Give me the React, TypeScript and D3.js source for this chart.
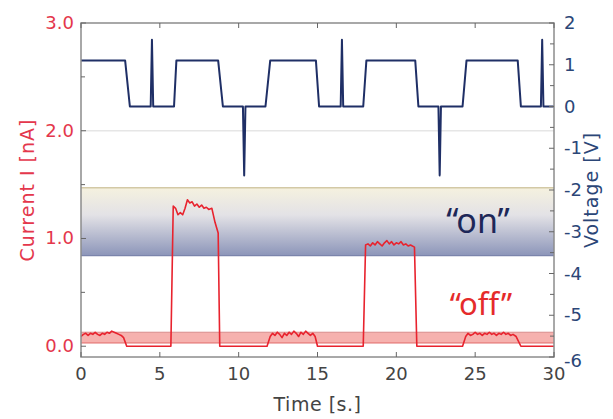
import * as d3 from "d3";

// time axis ticks and labels
const timeTicks = [0, 5, 10, 15, 20, 25, 30];
const currentTicks = [0, 1, 2, 3];
const currentMinor = [0.5, 1.5, 2.5];
const voltageTicks = [2, 1, 0, -1, -2, -3, -4, -5, -6];
const voltageMinor = [1.5, 0.5, -0.5, -1.5, -2.5, -3.5, -4.5, -5.5];

// applied voltage pulse train (time [s], voltage [V])
const voltTime = [0, 2.8, 3.1, 4.42, 4.5, 4.58, 5.9, 6.05, 8.7, 9.0, 10.27, 10.35, 10.43, 11.7, 12.0, 14.9, 15.1, 16.47, 16.55, 16.63, 17.9, 18.1, 21.2, 21.4, 22.67, 22.75, 22.83, 24.2, 24.45, 27.7, 27.9, 29.17, 29.25, 29.33, 30];
const voltValue = [1.1, 1.1, 0, 0, 1.6, 0, 0, 1.1, 1.1, 0, 0, -1.65, 0, 0, 1.1, 1.1, 0, 0, 1.6, 0, 0, 1.1, 1.1, 0, 0, -1.65, 0, 0, 1.1, 1.1, 0, 0, 1.6, 0, 0];

// measured current (time [s], current [nA])
const currTime = [
  0, 0.15, 0.3, 0.45, 0.6, 0.75, 0.9, 1.05, 1.2, 1.35, 1.5, 1.65, 1.8, 1.95, 2.1, 2.25, 2.4, 2.55, 2.7, 2.9,
  5.7, 5.85, 6.0, 6.15, 6.3, 6.45, 6.6, 6.75, 6.9, 7.05, 7.2, 7.35, 7.5, 7.65, 7.8, 7.95, 8.1, 8.3, 8.5, 8.7, 8.8,
  11.8, 12.0, 12.15, 12.3, 12.45, 12.6, 12.75, 12.9, 13.05, 13.2, 13.35, 13.5, 13.65, 13.8, 13.95, 14.1, 14.25, 14.4, 14.55, 14.7, 14.85, 15.0,
  17.9, 18.05, 18.2, 18.35, 18.5, 18.65, 18.8, 18.95, 19.1, 19.25, 19.4, 19.55, 19.7, 19.85, 20.0, 20.15, 20.3, 20.45, 20.6, 20.75, 20.9, 21.15, 21.3,
  24.2, 24.4, 24.55, 24.7, 24.85, 25.0, 25.15, 25.3, 25.45, 25.6, 25.75, 25.9, 26.05, 26.2, 26.35, 26.5, 26.65, 26.8, 26.95, 27.1, 27.25, 27.4, 27.6, 27.9, 30,
];
const currValue = [
  0.09, 0.11, 0.12, 0.1, 0.12, 0.11, 0.13, 0.11, 0.1, 0.12, 0.11, 0.13, 0.12, 0.14, 0.13, 0.12, 0.11, 0.1, 0.08, 0,
  0, 1.3, 1.28, 1.22, 1.24, 1.22, 1.28, 1.36, 1.33, 1.34, 1.3, 1.32, 1.29, 1.31, 1.28, 1.29, 1.27, 1.28, 1.15, 1.05, 0,
  0, 0.09, 0.12, 0.1, 0.13, 0.11, 0.08, 0.12, 0.1, 0.13, 0.11, 0.14, 0.12, 0.09, 0.13, 0.11, 0.14, 0.12, 0.1, 0.12, 0.09, 0,
  0, 0.94, 0.95, 0.93, 0.96, 0.94, 0.97, 0.95, 0.93, 0.96, 0.98, 0.95, 0.97, 0.94, 0.96, 0.95, 0.97, 0.94, 0.95, 0.93, 0.94, 0.92, 0,
  0, 0.09, 0.12, 0.1, 0.11, 0.13, 0.11, 0.12, 0.1, 0.12, 0.11, 0.13, 0.11, 0.12, 0.1, 0.12, 0.11, 0.13, 0.11, 0.12, 0.1, 0.11, 0.09, 0, 0,
];

// state bands in current units [nA]
const onBand = [0.84, 1.47];
const offBand = [0.03, 0.13];

const W = 613;
const H = 419;
const left = 81, right = 554, top = 23, bottom = 357;

const red = "#e4374c";
const navy = "#2b4677";
const font = "DejaVu Sans";

export default function App() {
  const x = d3.scaleLinear().domain([0, 30]).range([left, right]);
  const yI = d3.scaleLinear().domain([-0.1, 3.0]).range([bottom, top]);
  const yV = d3.scaleLinear().domain([-6, 2]).range([bottom, top]);

  const vLine = d3.line<number>().x((_, i) => x(voltTime[i])).y((d) => yV(d))(voltValue) ?? "";
  const iLine = d3.line<number>().x((_, i) => x(currTime[i])).y((d) => yI(d))(currValue) ?? "";

  return (
    <svg width={W} height={H} style={{ position: "absolute", left: 0, top: 0, background: "#fff" }} fontFamily={font}>
      <defs>
        <linearGradient id="onGrad" x1="0" y1="0" x2="0" y2="1">
          <stop offset="0%" stopColor="#f5f1df" />
          <stop offset="40%" stopColor="#e3e2e6" />
          <stop offset="100%" stopColor="#8c95b9" />
        </linearGradient>
      </defs>

      {/* grid */}
      <line x1={left} x2={right} y1={yI(2)} y2={yI(2)} stroke="#e6e6e6" strokeWidth={1.5} />

      {/* bands */}
      <rect x={left} width={right - left} y={yI(onBand[1])} height={yI(onBand[0]) - yI(onBand[1])} fill="url(#onGrad)" />
      <line x1={left} x2={right} y1={yI(onBand[1])} y2={yI(onBand[1])} stroke="#d3c9a6" strokeWidth={1.5} />
      <line x1={left} x2={right} y1={yI(onBand[0])} y2={yI(onBand[0])} stroke="#6e78a2" strokeWidth={1} />
      <rect x={left} width={right - left} y={yI(offBand[1])} height={yI(offBand[0]) - yI(offBand[1])} fill="#f6b1ae" />
      <line x1={left} x2={right} y1={yI(offBand[1])} y2={yI(offBand[1])} stroke="#d98c8c" strokeWidth={1} />
      <line x1={left} x2={right} y1={yI(offBand[0])} y2={yI(offBand[0])} stroke="#e06a6a" strokeWidth={1} />

      {/* traces */}
      <path d={vLine} fill="none" stroke="#1f2f66" strokeWidth={2} strokeLinejoin="round" />
      <path d={iLine} fill="none" stroke="#e8232e" strokeWidth={1.6} strokeLinejoin="round" />

      {/* frame */}
      <rect x={left} y={top} width={right - left} height={bottom - top} fill="none" stroke="#8c8c8c" strokeWidth={1.5} />

      {/* x ticks */}
      {timeTicks.map((t) => (
        <g key={"x" + t}>
          <line x1={x(t)} x2={x(t)} y1={bottom} y2={bottom - 5} stroke="#666" />
          <line x1={x(t)} x2={x(t)} y1={top} y2={top + 5} stroke="#666" />
          <text x={x(t)} y={bottom + 23} textAnchor="middle" fontSize={18} fill="#444">{t}</text>
        </g>
      ))}
      <text x={(left + right) / 2} y={411} textAnchor="middle" fontSize={19} letterSpacing={0.5} fill="#444">Time [s.]</text>

      {/* left axis */}
      {currentTicks.map((v) => (
        <g key={"l" + v}>
          <line x1={left} x2={left + 5} y1={yI(v)} y2={yI(v)} stroke="#666" />
          <text x={left - 7} y={yI(v) + 6} textAnchor="end" fontSize={18} fill={red}>{v.toFixed(1)}</text>
        </g>
      ))}
      {currentMinor.map((v) => (
        <line key={"lm" + v} x1={left} x2={left + 4} y1={yI(v)} y2={yI(v)} stroke="#666" />
      ))}
      <text transform={`translate(34,${(top + bottom) / 2}) rotate(-90)`} textAnchor="middle" fontSize={19} letterSpacing={1} fill={red}>Current I [nA]</text>

      {/* right axis */}
      {voltageTicks.map((v) => (
        <g key={"r" + v}>
          <line x1={right} x2={right - 5} y1={yV(v)} y2={yV(v)} stroke="#666" />
          <text x={right + 10} y={yV(v) + 6 + (v === -6 ? 4 : 0)} fontSize={18} fill={navy}>{v}</text>
        </g>
      ))}
      {voltageMinor.map((v) => (
        <line key={"rm" + v} x1={right} x2={right - 4} y1={yV(v)} y2={yV(v)} stroke="#666" />
      ))}
      <text transform={`translate(598,${(top + bottom) / 2}) rotate(-90)`} textAnchor="middle" fontSize={19} letterSpacing={1} fill={navy}>Voltage [V]</text>

      {/* state labels */}
      <text x={478} y={233} textAnchor="middle" fontFamily="Noto Sans" fontSize={34} fill="#1d2758">“on”</text>
      <text x={481} y={315} textAnchor="middle" fontFamily="Noto Sans" fontSize={31} fill="#e52b2b">“off”</text>
    </svg>
  );
}
